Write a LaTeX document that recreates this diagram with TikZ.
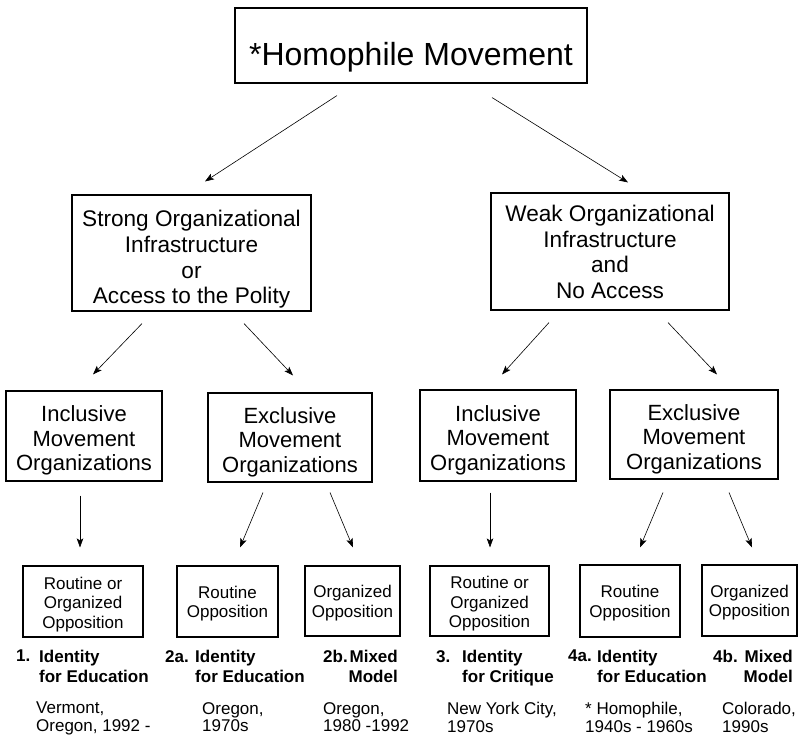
\documentclass[tikz,border=0pt]{standalone}
\usepackage{fontspec}
\setmainfont{Liberation Sans}
\usetikzlibrary{arrows.meta}

% invisible strut that pushes a box text down
\newcommand{\padtop}[1]{\rule{0pt}{#1}}

\begin{document}
\begin{tikzpicture}[x=1pt, y=-1pt,
    box/.style={draw, line width=1.1pt, inner sep=0pt, align=center},
    conn/.style={-{Stealth[length=9pt, width=6.5pt, inset=2pt]}, line width=0.6pt},
    casenum/.style={anchor=north west, inner sep=0pt, font=\fontsize{17}{20}\selectfont\bfseries},
    caselbl/.style={anchor=north west, inner sep=0pt, align=left, font=\fontsize{17}{20}\selectfont\bfseries},
    place/.style={anchor=north west, inner sep=0pt, align=left, font=\fontsize{17}{17.5}\selectfont}]
      \useasboundingbox (0,0) rectangle (799,738);

      % top
      \node[box, minimum width=352pt, minimum height=75pt, font=\fontsize{32}{36}\selectfont] (top) at (411,45.5)
        {\padtop{46pt}*Homophile Movement};

      % infrastructure
      \node[box, minimum width=239pt, minimum height=116pt, font=\fontsize{22.6}{25.7}\selectfont] (strong) at (191.5,253)
        {\padtop{29pt}Strong Organizational\\Infrastructure\\or\\Access to the Polity};
      \node[box, minimum width=238pt, minimum height=117pt, font=\fontsize{22.6}{25.7}\selectfont] (weak) at (610,251.5)
        {\padtop{17.5pt}Weak Organizational\\Infrastructure\\and\\No Access};

      % movement organizations
      \node[box, minimum width=156pt, minimum height=90pt, font=\fontsize{22}{24.7}\selectfont] (inclL) at (84,436)
        {\padtop{25pt}Inclusive\\Movement\\Organizations};
      \node[box, minimum width=164pt, minimum height=89pt, font=\fontsize{22}{24.7}\selectfont] (exclL) at (290,437.5)
        {\padtop{25pt}Exclusive\\Movement\\Organizations};
      \node[box, minimum width=156pt, minimum height=91pt, font=\fontsize{22}{24.7}\selectfont] (inclR) at (498,435.5)
        {\padtop{25pt}Inclusive\\Movement\\Organizations};
      \node[box, minimum width=168pt, minimum height=89pt, font=\fontsize{22}{24.7}\selectfont] (exclR) at (694,434.5)
        {\padtop{25pt}Exclusive\\Movement\\Organizations};

      % opposition
      \node[box, minimum width=120pt, minimum height=71pt, font=\fontsize{17}{19.5}\selectfont] (opp1) at (83,601.5)
        {\padtop{18pt}Routine or\\Organized\\Opposition};
      \node[box, minimum width=101pt, minimum height=71pt, font=\fontsize{17}{19.5}\selectfont] (opp2a) at (227.5,601.5)
        {\padtop{16.5pt}Routine\\Opposition};
      \node[box, minimum width=95pt, minimum height=70pt, font=\fontsize{17}{19.5}\selectfont] (opp2b) at (352.5,601)
        {\padtop{16.5pt}Organized\\Opposition};
      \node[box, minimum width=119pt, minimum height=70pt, font=\fontsize{17}{19.5}\selectfont] (opp3) at (489.5,601)
        {\padtop{18pt}Routine or\\Organized\\Opposition};
      \node[box, minimum width=100pt, minimum height=72pt, font=\fontsize{17}{19.5}\selectfont] (opp4a) at (630,601)
        {\padtop{16.5pt}Routine\\Opposition};
      \node[box, minimum width=95pt, minimum height=71pt, font=\fontsize{17}{19.5}\selectfont] (opp4b) at (749.5,600.5)
        {\padtop{16.5pt}Organized\\Opposition};

      % arrows
      \draw[conn] ([xshift=-74pt, yshift=-12pt]top.south) -- ([xshift=13.5pt, yshift=13pt]strong.north);
      \draw[conn] ([xshift=81pt, yshift=-14pt]top.south) -- ([xshift=18pt, yshift=10pt]weak.north);
      \draw[conn] ([xshift=-49.5pt, yshift=-12pt]strong.south) -- ([xshift=9pt, yshift=16pt]inclL.north);
      \draw[conn] ([xshift=52.5pt, yshift=-12pt]strong.south) -- ([xshift=3pt, yshift=17pt]exclL.north);
      \draw[conn] ([xshift=-61pt, yshift=-12pt]weak.south) -- ([xshift=4pt, yshift=15pt]inclR.north);
      \draw[conn] ([xshift=58pt, yshift=-12pt]weak.south) -- ([xshift=23pt, yshift=15pt]exclR.north);
      \draw[conn] ([xshift=-4pt, yshift=-14pt]inclL.south) -- ([xshift=-3pt, yshift=18pt]opp1.north);
      \draw[conn] ([xshift=-27pt, yshift=-10pt]exclL.south) -- ([xshift=12.5pt, yshift=18pt]opp2a.north);
      \draw[conn] ([xshift=40pt, yshift=-10pt]exclL.south) -- ([xshift=0.5pt, yshift=18pt]opp2b.north);
      \draw[conn] ([xshift=-8pt, yshift=-11pt]inclR.south) -- ([xshift=0.5pt, yshift=18pt]opp3.north);
      \draw[conn] ([xshift=-31pt, yshift=-13pt]exclR.south) -- ([xshift=10pt, yshift=17pt]opp4a.north);
      \draw[conn] ([xshift=35pt, yshift=-13pt]exclR.south) -- ([xshift=2.5pt, yshift=17pt]opp4b.north);

      % cases
      \node[casenum] (num1) at (16,650) {1.};
      \node[caselbl] (case1) at (39,650) {Identity\\for Education};
      \node[place] (place1) at (36,702) {Vermont,\\Oregon, 1992 -};
      \node[casenum] (num2a) at (165,650) {2a.};
      \node[caselbl] (case2a) at (195,650) {Identity\\for Education};
      \node[place] (place2a) at (202,702) {Oregon,\\1970s};
      \node[casenum] (num2b) at (323,650) {2b.};
      \node[caselbl, anchor=north east, align=right] (case2b) at (398,650) {Mixed\\Model};
      \node[place] (place2b) at (323,702) {Oregon,\\1980 -1992};
      \node[casenum] (num3) at (436,650) {3.};
      \node[caselbl] (case3) at (462,650) {Identity\\for Critique};
      \node[place] (place3) at (447,702) {New York City,\\1970s};
      \node[casenum] (num4a) at (568,650) {4a.};
      \node[caselbl] (case4a) at (597,650) {Identity\\for Education};
      \node[place] (place4a) at (585,702) {* Homophile,\\1940s - 1960s};
      \node[casenum] (num4b) at (713,650) {4b.};
      \node[caselbl, anchor=north east, align=right] (case4b) at (793,650) {Mixed\\Model};
      \node[place] (place4b) at (722,702) {Colorado,\\1990s};
\end{tikzpicture}
\end{document}
